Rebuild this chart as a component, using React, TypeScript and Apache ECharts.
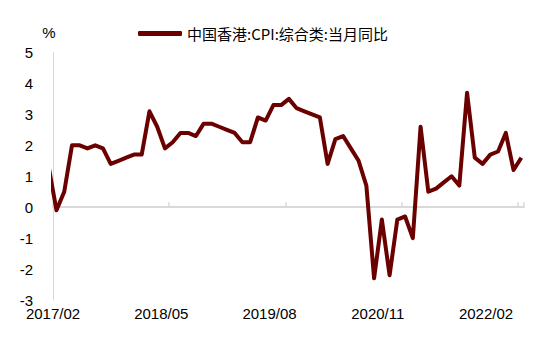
import React, { useEffect, useRef } from "react";
import * as echarts from "echarts";

const months: string[] = [
  "2017/01","2017/02","2017/03","2017/04","2017/05","2017/06","2017/07","2017/08","2017/09","2017/10","2017/11","2017/12",
  "2018/01","2018/02","2018/03","2018/04","2018/05","2018/06","2018/07","2018/08","2018/09","2018/10","2018/11","2018/12",
  "2019/01","2019/02","2019/03","2019/04","2019/05","2019/06","2019/07","2019/08","2019/09","2019/10","2019/11","2019/12",
  "2020/01","2020/02","2020/03","2020/04","2020/05","2020/06","2020/07","2020/08","2020/09","2020/10","2020/11","2020/12",
  "2021/01","2021/02","2021/03","2021/04","2021/05","2021/06","2021/07","2021/08","2021/09","2021/10","2021/11","2021/12",
  "2022/01","2022/02",
];

const cpi: number[] = [
  1.3, -0.1, 0.5, 2.0, 2.0, 1.9, 2.0, 1.9, 1.4, 1.5, 1.6, 1.7,
  1.7, 3.1, 2.6, 1.9, 2.1, 2.4, 2.4, 2.3, 2.7, 2.7, 2.6, 2.5,
  2.4, 2.1, 2.1, 2.9, 2.8, 3.3, 3.3, 3.5, 3.2, 3.1, 3.0, 2.9,
  1.4, 2.2, 2.3, 1.9, 1.5, 0.7, -2.3, -0.4, -2.2, -0.4, -0.3, -1.0,
  2.6, 0.5, 0.6, 0.8, 1.0, 0.7, 3.7, 1.6, 1.4, 1.7, 1.8, 2.4,
  1.2, 1.6,
];

const tickLabels: string[] = ["2017/02", "2018/05", "2019/08", "2020/11", "2022/02"];

const seriesName = "中国香港:CPI:综合类:当月同比";

// month position relative to the 2017/02 tick; data dated mid-month
const monthPos = (m: string) => {
  const [y, mo] = m.split("/").map(Number);
  return (y - 2017) * 12 + (mo - 2) + 0.45;
};

export default function App() {
  const ref = useRef<HTMLDivElement>(null);
  useEffect(() => {
    document.body.style.margin = "0";
    if (!ref.current) return;
    const chart = echarts.init(ref.current, undefined, { renderer: "svg" });
    const font = "'Liberation Sans', Arial, sans-serif";
    chart.setOption({
      animation: false,
      legend: {
        left: 133,
        top: 21,
        icon: "roundRect",
        itemWidth: 44,
        itemHeight: 5,
        itemGap: 10,
        textStyle: { fontSize: 15, color: "#000", fontFamily: "'Noto Sans CJK SC', sans-serif" },
        data: [seriesName],
      },
      grid: [
        { left: 53, right: 35, top: 52.5, bottom: 52, containLabel: false },
        { left: 53, width: 433, top: 300, height: 1, containLabel: false },
      ],
      xAxis: [
        {
          type: "value",
          gridIndex: 0,
          min: 0,
          max: 60.8,
          interval: 15,
          axisLine: { show: true, onZero: true, lineStyle: { color: "#d9d9d9", width: 2 } },
          axisTick: { show: true, inside: true, length: 5, lineStyle: { color: "#d9d9d9", width: 1.5 } },
          axisLabel: { show: false },
          splitLine: { show: false },
        },
        {
          type: "category",
          gridIndex: 1,
          boundaryGap: false,
          data: tickLabels,
          axisLine: { show: false },
          axisTick: { show: false },
          axisLabel: { show: true, interval: 0, margin: 5, fontSize: 15, color: "#000", fontFamily: font },
          splitLine: { show: false },
        },
      ],
      yAxis: [
        {
          type: "value",
          gridIndex: 0,
          min: -3,
          max: 5,
          interval: 1,
          name: "%",
          nameLocation: "end",
          nameGap: 13,
          nameTextStyle: { fontSize: 15, color: "#000", fontFamily: font, padding: [0, 8, 0, 0] },
          axisLine: { show: true, lineStyle: { color: "#d9d9d9", width: 1 } },
          axisTick: { show: false },
          axisLabel: { fontSize: 15, color: "#000", fontFamily: font, margin: 20 },
          splitLine: { show: false },
        },
        { type: "value", gridIndex: 1, show: false },
      ],
      series: [
        {
          name: seriesName,
          type: "line",
          xAxisIndex: 0,
          yAxisIndex: 0,
          data: months.map((m, i) => [monthPos(m), cpi[i]]),
          showSymbol: false,
          symbol: "none",
          clip: true,
          lineStyle: { color: "#6b0000", width: 4, join: "round" },
          itemStyle: { color: "#6b0000" },
        },
      ],
    });
    return () => chart.dispose();
  }, []);
  return <div ref={ref} style={{ width: 559, height: 352 }} />;
}
